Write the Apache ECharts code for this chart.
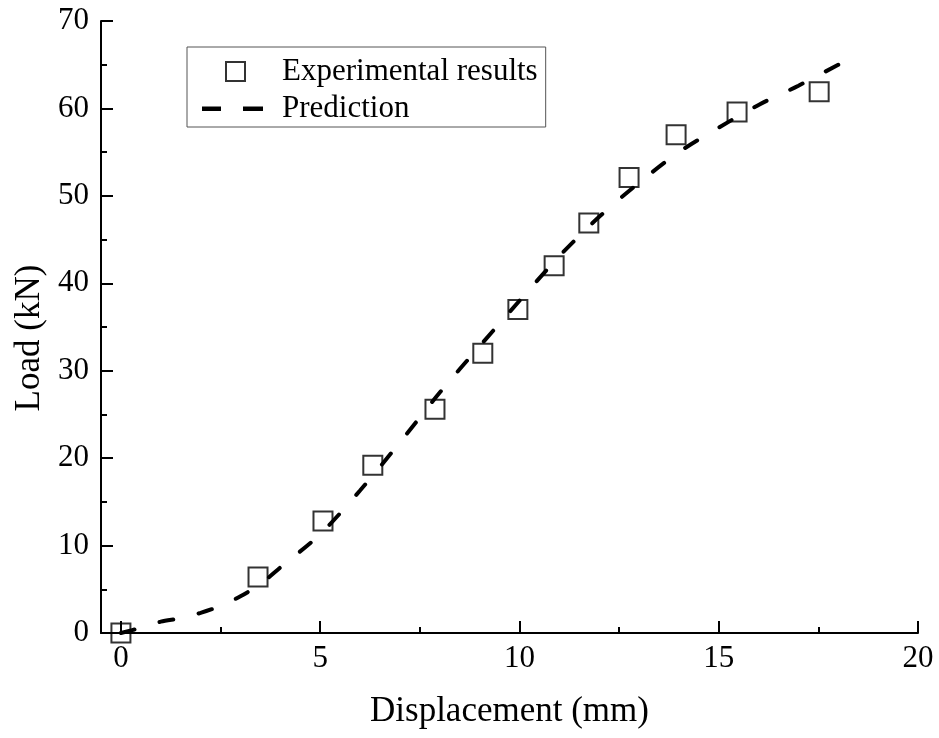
<!DOCTYPE html>
<html>
<head>
<meta charset="utf-8">
<script src="https://cdn.jsdelivr.net/npm/echarts@6/dist/echarts.min.js"></script>
<style>
html,body{margin:0;padding:0;background:#fff;}
#chart{width:939px;height:738px;}
</style>
</head>
<body>
<div id="chart"></div>
<script>
// Experimental results
const expX = [0, 3.44, 5.07, 6.32, 7.88, 9.08, 9.96, 10.87, 11.74, 12.75, 13.93, 15.46, 17.52];
const expY = [0, 6.4, 12.8, 19.2, 25.6, 32.0, 37.0, 42.0, 46.9, 52.1, 57.0, 59.6, 61.9];
// Prediction curve
const predX = [0, 0.5, 1, 1.5, 2, 2.5, 3, 3.5, 4, 5, 6, 7, 8, 9, 10, 11, 12, 13, 14, 15, 16, 17, 18];
const predY = [0, 0.6, 1.3, 1.7, 2.3, 3.1, 4.2, 5.6, 7.5, 11.3, 16.3, 21.8, 27.5, 32.8, 38.0, 43.1, 47.6, 51.5, 55.0, 57.8, 60.4, 62.6, 65.0];
// Axis ticks
const xMajorTicks = [0, 5, 10, 15, 20];
const xMinorTicks = [2.5, 7.5, 12.5, 17.5];
const seriesNames = ['Experimental results', 'Prediction'];

const FONT = 'Liberation Serif';
const chart = echarts.init(document.getElementById('chart'), null, {renderer: 'canvas'});
const expData = expX.map((x, i) => [x, expY[i]]);
const predData = predX.map((x, i) => [x, predY[i]]);

chart.setOption({
  animation: false,
  backgroundColor: '#fff',
  grid: {left: 101, right: 21, top: 21, bottom: 105},
  legend: {
    orient: 'vertical',
    left: 187, top: 47,
    padding: [9, 8, 3, 12],
    borderColor: '#555', borderWidth: 1,
    itemWidth: 64, itemHeight: 20, itemGap: 6,
    textStyle: {fontFamily: FONT, fontSize: 31, color: '#000', padding: [0, 0, 0, 13]},
    data: [
      {name: seriesNames[0], icon: 'path://M0,0M26,0h19v19h-19zM64,19'},
      {name: seriesNames[1], icon: 'path://M0,0M2,8h19v4.5h-19zM43,8h20v4.5h-20zM64,20',
       itemStyle: {color: '#000', borderWidth: 0}}
    ]
  },
  xAxis: [{
    type: 'value', min: -0.5, max: 20,
    name: 'Displacement (mm)', nameLocation: 'middle', nameGap: 61,
    nameTextStyle: {fontFamily: FONT, fontSize: 35, color: '#000'},
    axisLine: {show: true, onZero: false, lineStyle: {color: '#000', width: 2}},
    axisTick: {show: true, inside: true, length: 12, customValues: xMajorTicks, lineStyle: {color: '#000', width: 2}},
    axisLabel: {show: true, customValues: xMajorTicks, margin: 10, fontFamily: FONT, fontSize: 31, color: '#000'},
    splitLine: {show: false}
  }, {
    type: 'value', min: -0.5, max: 20, position: 'bottom',
    axisLine: {show: false, onZero: false},
    axisTick: {show: true, inside: true, length: 6, customValues: xMinorTicks, lineStyle: {color: '#000', width: 2}},
    axisLabel: {show: false},
    splitLine: {show: false}
  }],
  yAxis: {
    type: 'value', min: 0, max: 70, interval: 10,
    name: 'Load (kN)', nameLocation: 'middle', nameGap: 50,
    nameTextStyle: {fontFamily: FONT, fontSize: 35, color: '#000', padding: [0, 22, 0, 0]},
    axisLine: {show: true, onZero: false, lineStyle: {color: '#000', width: 2}},
    axisTick: {show: true, inside: true, length: 12, lineStyle: {color: '#000', width: 2}},
    minorTick: {show: true, splitNumber: 2, length: 6, lineStyle: {color: '#000', width: 2}},
    axisLabel: {margin: 12, fontFamily: FONT, fontSize: 31, color: '#000'},
    splitLine: {show: false}
  },
  series: [{
    name: seriesNames[1],
    type: 'line',
    data: predData,
    smooth: 0.3,
    symbol: 'none',
    z: 2,
    lineStyle: {color: '#000', width: 4, type: [14, 26], cap: 'round'},
    itemStyle: {color: '#000'}
  }, {
    name: seriesNames[0],
    type: 'scatter',
    data: expData,
    symbol: 'rect',
    symbolSize: 19,
    z: 3,
    itemStyle: {color: 'rgba(0,0,0,0)', borderColor: '#000', borderWidth: 2}
  }]
});
</script>
</body>
</html>
